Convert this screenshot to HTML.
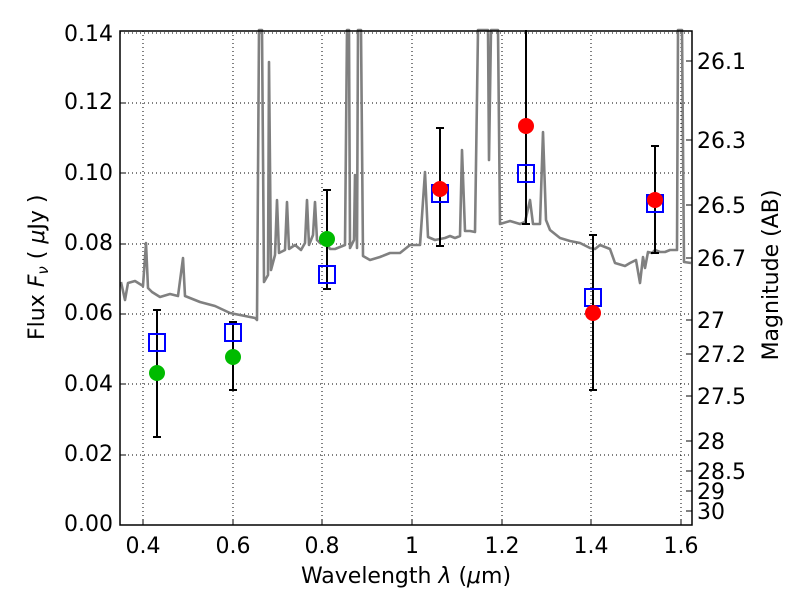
<!DOCTYPE html><html><head><style>body{margin:0;background:#fff}svg text{font-family:"DejaVu Sans","Liberation Sans",sans-serif;fill:#000}</style></head><body>
<svg width="800" height="600" xmlns="http://www.w3.org/2000/svg">
<rect width="800" height="600" fill="#fff"/>
<g stroke="#000" stroke-width="1" stroke-dasharray="1,3">
<line x1="143" y1="31" x2="143" y2="525"/><line x1="233" y1="31" x2="233" y2="525"/><line x1="322" y1="31" x2="322" y2="525"/><line x1="412" y1="31" x2="412" y2="525"/><line x1="502" y1="31" x2="502" y2="525"/><line x1="591" y1="31" x2="591" y2="525"/><line x1="681" y1="31" x2="681" y2="525"/>
<line x1="120" y1="455" x2="692" y2="455"/><line x1="120" y1="384" x2="692" y2="384"/><line x1="120" y1="314" x2="692" y2="314"/><line x1="120" y1="244" x2="692" y2="244"/><line x1="120" y1="173" x2="692" y2="173"/><line x1="120" y1="103" x2="692" y2="103"/><line x1="120" y1="33" x2="692" y2="33"/>
</g>
<polyline fill="none" stroke="#808080" stroke-width="2.6" stroke-linejoin="round" points="121,282 125,300 128,283 135,281 143,286 146,243 148,288 152,292 160,297 170,294 178,296 183,258 185,296 190,298 200,302 215,306 230,313 240,315 250,317 255,318 257,320 259,30 262,30 264,282 268,275 269,62 271,270 275,255 277,200 279,253 285,250 287,202 289,249 295,245 301,250 305,243 307,200 309,245 313,235 315,202 317,240 320,243 325,240 330,249 335,249 345,245 347,30 349,30 350,248 354,240 355,175 357,248 358,30 361,30 363,256 370,260 380,257 390,253 400,253 410,245 420,245 425,172 428,237 435,240 445,238 450,236 455,238 460,236 462,150 465,231 470,231 475,232 478,30 481,30 488,30 489,160 491,30 498,30 500,224 510,221 520,224 525,222 530,200 533,224 540,224 543,132 546,220 550,230 560,238 570,241 580,243 590,248 595,249 600,245 610,249 615,263 625,266 630,263 636,260 640,283 643,257 645,268 648,252 652,253 655,250 660,252 665,252 670,250 677,250 678,30 682,30 684,262 691,263"/>
<g stroke="#000" stroke-width="2">
<line x1="157" y1="310" x2="157" y2="437"/><line x1="153" y1="310" x2="161" y2="310"/><line x1="153" y1="437" x2="161" y2="437"/>
<line x1="233" y1="322" x2="233" y2="390"/><line x1="229" y1="322" x2="237" y2="322"/><line x1="229" y1="390" x2="237" y2="390"/>
<line x1="327" y1="190" x2="327" y2="289"/><line x1="323" y1="190" x2="331" y2="190"/><line x1="323" y1="289" x2="331" y2="289"/>
<line x1="440" y1="128" x2="440" y2="246"/><line x1="436" y1="128" x2="444" y2="128"/><line x1="436" y1="246" x2="444" y2="246"/>
<line x1="526" y1="30" x2="526" y2="224"/><line x1="522" y1="224" x2="530" y2="224"/>
<line x1="593" y1="235" x2="593" y2="390"/><line x1="589" y1="235" x2="597" y2="235"/><line x1="589" y1="390" x2="597" y2="390"/>
<line x1="655" y1="146" x2="655" y2="253"/><line x1="651" y1="146" x2="659" y2="146"/><line x1="651" y1="253" x2="659" y2="253"/>
</g>
<g fill="none" stroke="#0000ff" stroke-width="2">
<rect x="149" y="334" width="16" height="17"/><rect x="225" y="324" width="16" height="17"/><rect x="319" y="266" width="16" height="17"/><rect x="432" y="185" width="16" height="17"/><rect x="518" y="165" width="16" height="17"/><rect x="585" y="289" width="16" height="17"/><rect x="647" y="195" width="16" height="17"/>
</g>
<g fill="#00bb00"><circle cx="157" cy="373" r="8"/><circle cx="233" cy="357" r="8"/><circle cx="327" cy="239" r="8"/></g>
<g fill="#ff0000"><circle cx="440" cy="189" r="8"/><circle cx="526" cy="126" r="8"/><circle cx="593" cy="313" r="8"/><circle cx="655" cy="200" r="8"/></g>
<rect x="120" y="31" width="572" height="494" fill="none" stroke="#000" stroke-width="1.5"/>
<g stroke="#000" stroke-width="1">
<line x1="143" y1="525" x2="143" y2="519"/><line x1="233" y1="525" x2="233" y2="519"/><line x1="322" y1="525" x2="322" y2="519"/><line x1="412" y1="525" x2="412" y2="519"/><line x1="502" y1="525" x2="502" y2="519"/><line x1="591" y1="525" x2="591" y2="519"/><line x1="681" y1="525" x2="681" y2="519"/>
<line x1="120" y1="455" x2="126" y2="455"/><line x1="120" y1="384" x2="126" y2="384"/><line x1="120" y1="314" x2="126" y2="314"/><line x1="120" y1="244" x2="126" y2="244"/><line x1="120" y1="173" x2="126" y2="173"/><line x1="120" y1="103" x2="126" y2="103"/>
<line x1="692" y1="61" x2="686" y2="61"/><line x1="692" y1="140" x2="686" y2="140"/><line x1="692" y1="205" x2="686" y2="205"/><line x1="692" y1="258" x2="686" y2="258"/><line x1="692" y1="320" x2="686" y2="320"/><line x1="692" y1="354" x2="686" y2="354"/><line x1="692" y1="396" x2="686" y2="396"/><line x1="692" y1="441" x2="686" y2="441"/><line x1="692" y1="471" x2="686" y2="471"/><line x1="692" y1="491" x2="686" y2="491"/><line x1="692" y1="511" x2="686" y2="511"/>
</g>
<g font-size="22" text-anchor="end">
<text x="113" y="531">0.00</text><text x="113" y="461">0.02</text><text x="113" y="391">0.04</text><text x="113" y="320">0.06</text><text x="113" y="250">0.08</text><text x="113" y="180">0.10</text><text x="113" y="109">0.12</text><text x="113" y="41">0.14</text>
</g>
<g font-size="22" text-anchor="middle">
<text x="143" y="553">0.4</text><text x="233" y="553">0.6</text><text x="322" y="553">0.8</text><text x="412" y="553">1</text><text x="502" y="553">1.2</text><text x="591" y="553">1.4</text><text x="681" y="553">1.6</text>
<text x="406" y="583">Wavelength  <tspan font-style="italic">λ</tspan> (<tspan font-style="italic">μ</tspan>m)</text>
</g>
<g font-size="22">
<text x="697" y="69">26.1</text><text x="697" y="148">26.3</text><text x="697" y="213">26.5</text><text x="697" y="266">26.7</text><text x="697" y="328">27</text><text x="697" y="362">27.2</text><text x="697" y="404">27.5</text><text x="697" y="449">28</text><text x="697" y="479">28.5</text><text x="697" y="499">29</text><text x="697" y="519">30</text>
</g>
<text font-size="22" transform="translate(44,340) rotate(-90)">Flux  <tspan font-style="italic">F</tspan><tspan font-size="15" font-style="italic" dy="4">ν</tspan><tspan dy="-4">  ( </tspan><tspan font-style="italic">μ</tspan>Jy )</text>
<text font-size="22" text-anchor="middle" transform="translate(778,275) rotate(-90)">Magnitude (AB)</text>
</svg>
</body></html>
